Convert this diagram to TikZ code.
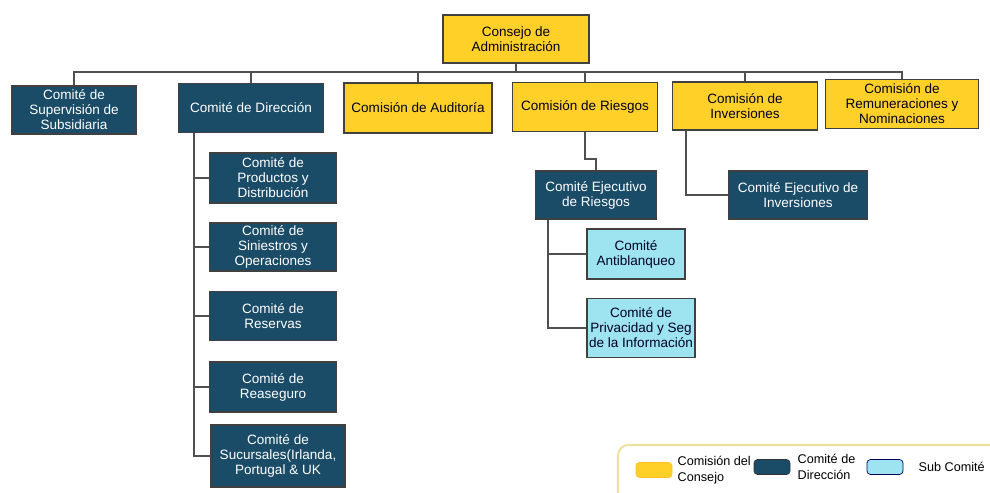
\documentclass[tikz,border=0pt]{standalone}
\usepackage{fontspec}
\setmainfont{Liberation Sans}
\usepackage{tikz}
\usetikzlibrary{positioning, calc}
\definecolor{boardYellow}{RGB}{255, 208, 40}
\definecolor{dirBlue}{RGB}{26, 76, 104}
\definecolor{subCyan}{RGB}{158, 228, 240}
\definecolor{lineGray}{RGB}{80, 80, 80}
\definecolor{legendEdge}{RGB}{238, 226, 160}
\tikzset{
    box/.style={draw=black!75, line width=0.7pt, align=center, inner sep=1pt,
        font=\fontsize{7.7}{8.5}\selectfont},
    board/.style={box, fill=boardYellow, text=black!85!blue},
    dir/.style={box, fill=dirBlue, text=white},
    sub/.style={box, fill=subCyan, text=black!85!blue},
    link/.style={draw=lineGray, line width=0.8pt},
    swatch/.style={draw, rounded corners=2pt, minimum width=0.72cm, minimum height=0.3cm},
    legtext/.style={align=left, inner sep=0pt, font=\fontsize{7.2}{8.8}\selectfont}
}

\begin{document}
\begin{tikzpicture}[x=0.02cm, y=-0.02cm]
        \useasboundingbox (0,0) rectangle (990,493);
        % consejo
        \node[board, minimum width=2.92cm, minimum height=0.96cm] (C) at (516,39) {Consejo de\\Administración};
        \coordinate (bus) at (516,72);

        % primer nivel
        \node[dir, minimum width=2.48cm, minimum height=0.96cm] (sup) at (74,110) {Comité de\\Supervisión de\\Subsidiaria};
        \node[dir, minimum width=2.9cm, minimum height=0.98cm] (dir) at (251,108) {Comité de Dirección};
        \node[board, minimum width=2.96cm, minimum height=1cm] (aud) at (418,108) {Comisión de Auditoría};
        \node[board, minimum width=2.9cm, minimum height=0.98cm] (rie) at (585,107) {Comisión de Riesgos};
        \node[board, minimum width=2.9cm, minimum height=0.96cm] (inv) at (745,106) {Comisión de\\Inversiones};
        \node[board, minimum width=3.06cm, minimum height=0.98cm] (rem) at (902,104) {Comisión de\\Remuneraciones y\\Nominaciones};

        \draw[link] (C) -- (bus);
        \foreach \n in {sup,dir,aud,rie,inv,rem}
            \draw[link] (bus) -| (\n.north);

        % comités de dirección
        \node[dir, minimum width=2.54cm, minimum height=1cm] (prod) at (273,178) {Comité de\\Productos y\\Distribución};
        \node[dir, minimum width=2.54cm, minimum height=0.96cm] (sin) at (273,247) {Comité de\\Siniestros y\\Operaciones};
        \node[dir, minimum width=2.54cm, minimum height=0.98cm] (res) at (273,316) {Comité de\\Reservas};
        \node[dir, minimum width=2.54cm, minimum height=1cm] (rea) at (273,387) {Comité de\\Reaseguro};
        \node[dir, minimum width=2.68cm, minimum height=1.24cm] (suc) at (278,456) {Comité de\\Sucursales(Irlanda,\\Portugal \& UK};
        \foreach \n in {prod,sin,res,rea,suc}
            \draw[link] ([xshift=0.32cm]dir.south west) |- (\n.west);

        % riesgos e inversiones
        \node[dir, minimum width=2.42cm, minimum height=0.96cm] (ejr) at (596,195) {Comité Ejecutivo\\de Riesgos};
        \node[dir, minimum width=2.78cm, minimum height=0.96cm] (eji) at (798,195) {Comité Ejecutivo de\\Inversiones};
        \draw[link] (rie.south) -- ++(0,27) -| (ejr.north);
        \draw[link] ([xshift=0.28cm]inv.south west) |- (eji.west);

        \node[sub, minimum width=1.96cm, minimum height=1cm] (anti) at (636,254) {Comité\\Antiblanqueo};
        \node[sub, minimum width=2.16cm, minimum height=1.18cm] (priv) at (641,328) {Comité de\\Privacidad y Seg\\de la Información};
        \foreach \n in {anti,priv}
            \draw[link] ([xshift=0.26cm]ejr.south west) |- (\n.west);

        % leyenda
        \draw[legendEdge, line width=1.2pt, rounded corners=6pt] (618,445) rectangle (1010,510);
        \node[swatch, draw=boardYellow!80!orange, fill=boardYellow] (lc) at (654,470) {};
        \node[right=0.1cm of lc, legtext] (lct) {Comisión del\\Consejo};
        \node[swatch, draw=black!80, fill=dirBlue] (ld) at (772,467) {};
        \node[right=0.14cm of ld, legtext] (ldt) {Comité de\\Dirección};
        \node[swatch, draw=blue!40!black, fill=subCyan] (ls) at (885,467) {};
        \node[right=0.3cm of ls, legtext] (lst) {Sub Comité};
    \end{tikzpicture}
\end{document}
